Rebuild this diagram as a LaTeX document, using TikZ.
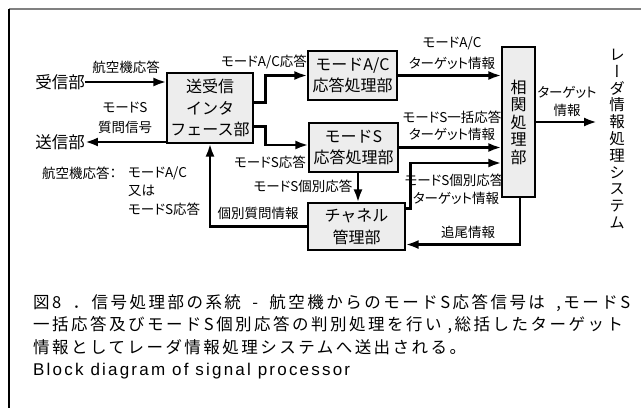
\documentclass[tikz,border=0pt]{standalone}
\usepackage{fontspec}
\usetikzlibrary{arrows.meta,calc}
\newfontfamily\jp{Noto Sans CJK JP}
\newfontfamily\jpp[RawFeature=+palt]{Noto Sans CJK JP}
\newfontfamily\jpv[RawFeature=+vert]{Noto Sans CJK JP}
\newfontfamily\capjp[LetterSpace=15]{Noto Sans CJK JP}
\newfontfamily\capen[LetterSpace=13]{Liberation Sans}
\begin{document}
\begin{tikzpicture}[x=1pt,y=-1pt,
  blk/.style={draw=black, line width=1.1pt, fill=gray!14, inner sep=0pt, align=center, font=\jp\fontsize{16}{21.5}\selectfont},
  arr/.style={line width=2.6pt, -{Latex[length=13pt,width=9pt]}},
  lbl/.style={inner sep=0pt, align=center, font=\jpp\fontsize{13.5}{17}\selectfont},
  term/.style={inner sep=0pt, font=\jp\fontsize{16.5}{20}\selectfont},
  captxt/.style={anchor=west, inner sep=0pt, font=\capjp\fontsize{16.5}{20}\selectfont}]
\useasboundingbox (0,0) rectangle (641,408);
\fill[white] (0,0) rectangle (641,408);
\draw[gray, line width=2pt] (9,9) -- (641,9);
\draw[black, line width=1.2pt] (9,9) -- (9,408);

% terminals and blocks
\node[term] (rx) at (60,82) {受信部};
\node[term] (tx) at (60,142) {送信部};
\node[blk, minimum width=86pt, minimum height=70pt] (iface) at (210,108) {送受信\\インタ\\フェース部};
\node[blk, minimum width=89pt, minimum height=49pt] (ac) at (352.5,75.5) {モードA/C\\応答処理部};
\node[blk, minimum width=89pt, minimum height=49pt] (ms) at (353.5,147.5) {モードS\\応答処理部};
\node[blk, minimum width=97pt, minimum height=47pt] (ch) at (356.5,226.5) {チャネル\\管理部};
\node[blk, minimum width=33pt, minimum height=150pt, font=\jp\fontsize{16}{17.5}\selectfont] (corr) at (518.5,122) {相\\関\\処\\理\\部};
\node[inner sep=0pt, align=center, font=\jpv\fontsize{15.5}{16.8}\selectfont] (radar) at (617,139) {レ\\ー\\ダ\\情\\報\\処\\理\\シ\\ス\\テ\\ム};

% connectors
\draw[arr] (rx.east) -- (rx.east -| iface.west);
\draw[arr] (iface.west |- tx.east) -- (tx.east);
\draw[arr] ($(iface.north east)+(0,30)$) -- ++(12,0) |- (ac.west);
\draw[arr] ($(iface.north east)+(0,54)$) -- ++(12,0) |- ($(ms.west)+(0,-2.5)$);
\draw[arr] (ac.east) -- (ac.east -| corr.west);
\draw[arr] (ms.east) -- (ms.east -| corr.west);
\draw[arr] ($(ch.north east)+(0,6)$) -- ++(5,0) |- ($(corr.west)+(0,41)$);
\coordinate (cb) at ($(corr.south)+(1.5,0)$);
\draw[arr] (cb) |- ($(ch.south east)+(0,-6)$);
\draw[arr, shorten >=12pt] (corr.east) -- (corr.east -| radar.west);
\coordinate (m1) at ($(ms.south)+(4.5,0)$);
\draw[arr] (m1) -- (m1 |- ch.north);
\draw[arr] (ch.west) -| (iface.south);

% labels
\node[lbl] (la) at (126,67) {航空機応答};
\node[lbl] (lb1) at (125,108) {モードS};
\node[lbl] (lb2) at (125,127) {質問信号};
\node[lbl, anchor=west] (n0) at (42,173) {航空機応答：};
\node[lbl, anchor=west] (n1) at (128,173) {モードA/C};
\node[lbl, anchor=west] (n2) at (128,191) {又は};
\node[lbl, anchor=west] (n3) at (128,209) {モードS応答};
\node[lbl] (lc) at (264,62) {モードA/C応答};
\node[lbl] (ld) at (270,162) {モードS応答};
\node[lbl] (le) at (303,186) {モードS個別応答};
\node[lbl] (lf) at (258,213) {個別質問情報};
\node[lbl] (lg1) at (452,43) {モードA/C};
\node[lbl] (lg2) at (452,63) {ターゲット情報};
\node[lbl] (lh1) at (452,117) {モードS一括応答};
\node[lbl] (lh2) at (452,134) {ターゲット情報};
\node[lbl] (li1) at (454,180) {モードS個別応答};
\node[lbl] (li2) at (456,198) {ターゲット情報};
\node[lbl] (lj) at (468,232) {追尾情報};
\node[lbl] (lk1) at (567,92) {ターゲット};
\node[lbl] (lk2) at (567,110) {情報};

% caption
\node[captxt] (c1) at (33,303) {\makebox[597pt][s]{図8 ．信号処理部の系統 - 航空機からのモードS応答信号は ,モードS}};
\node[captxt] (c2) at (33,325) {一括応答及びモードS個別応答の判別処理を行い ,総括したターゲット};
\node[captxt] (c3) at (33,347) {情報としてレーダ情報処理システムへ送出される。};
\node[captxt, font=\capen\fontsize{17}{20}\selectfont] (c4) at (33,371) {Block diagram of signal processor};
\end{tikzpicture}
\end{document}
